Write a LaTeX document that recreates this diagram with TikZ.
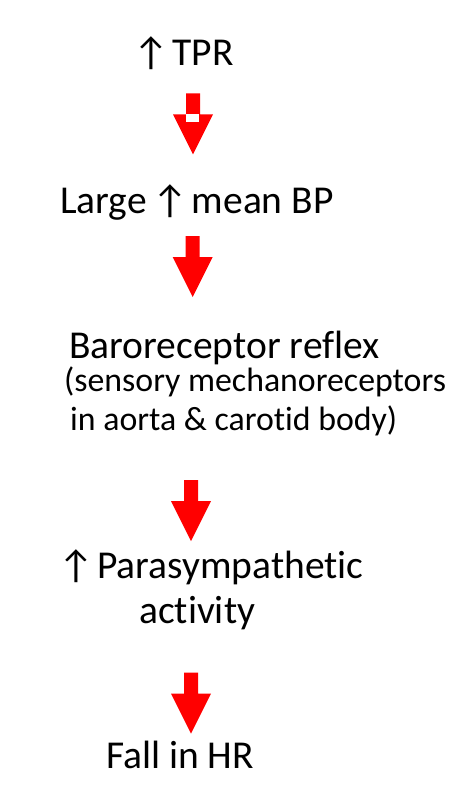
\documentclass[tikz,border=0pt]{standalone}
\usepackage{fontspec}
\setmainfont[Ligatures={NoCommon}]{Carlito}
\newcommand{\uparr}{\kern-0.08em↑\kern-0.14em}
\begin{document}
\begin{tikzpicture}[x=1pt,y=-1pt,
  lbl/.style={anchor=base west, inner sep=0pt, font=\fontsize{39.5}{44}\selectfont},
  sub/.style={anchor=base west, inner sep=0pt, font=\fontsize{33.8}{38}\selectfont},
  blockarrow/.pic={\fill[red] (-7,0) -- (7,0) -- (7,21) -- (20,21) -- (0,61) -- (-20,21) -- (-7,21) -- cycle;},
  notch/.style={fill=white, draw=none}]
\useasboundingbox[fill=white] (0,0) rectangle (472,798);
% texts
\node[lbl] (tpr) at (133,65) {↑\kern-0.14em{} TPR};
\node[lbl] (bp) at (60,213) {Large \uparr{} mean BP};
\node[lbl] (baro) at (69,358) {Baroreceptor reflex};
\node[sub] (sub1) at (64,391) {(sensory mechanoreceptors};
\node[sub] (sub2) at (70,430) {in aorta \& carotid body)};
\node[lbl] (para) at (58,578) {↑\kern-0.14em{} Parasympathetic};
\node[lbl] (act) at (139,623) {activity};
\node[lbl] (hr) at (106,768) {Fall in HR};
% arrows
\coordinate (a1) at (193,93.3);
\coordinate (a2) at (192.7,236);
\coordinate (a3) at (191,480);
\coordinate (a4) at (191,672.7);
\pic at (a1) {blockarrow};
\fill[notch] ([shift={(-7,21)}]a1) rectangle ([shift={(6,28.5)}]a1);
\pic at (a2) {blockarrow};
\pic at (a3) {blockarrow};
\pic at (a4) {blockarrow};
\end{tikzpicture}
\end{document}
